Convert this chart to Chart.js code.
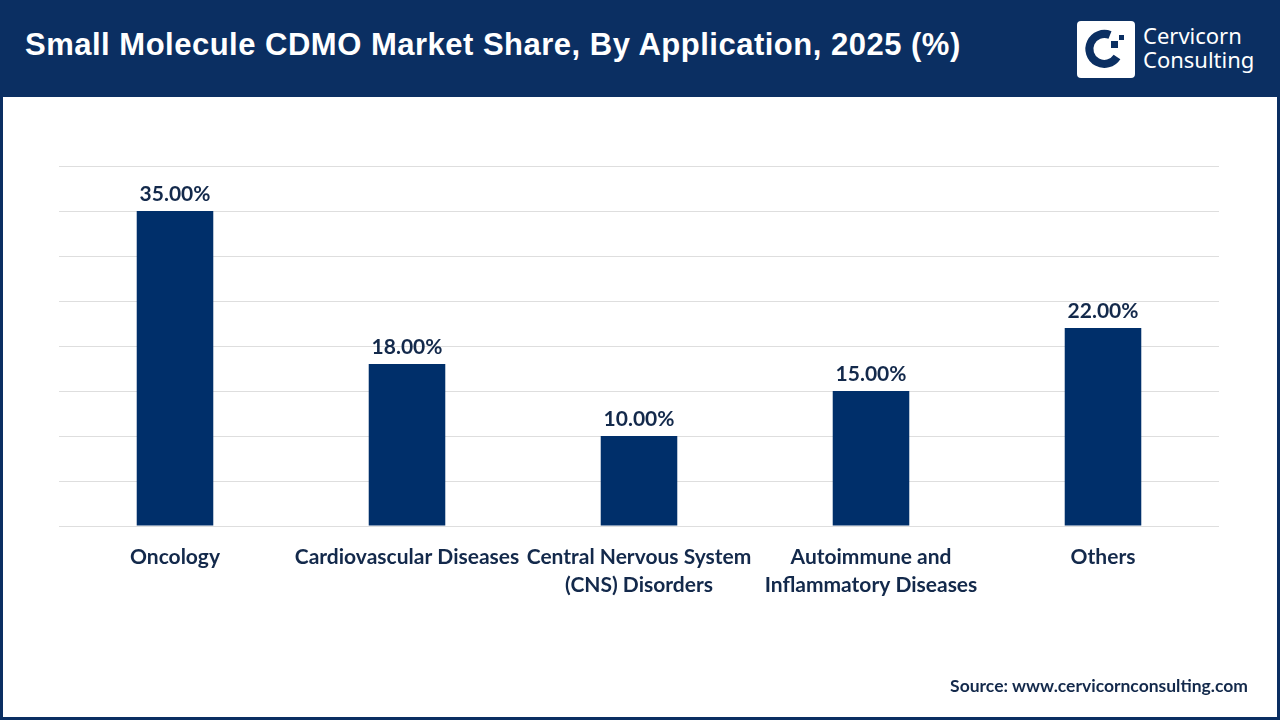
<!DOCTYPE html>
<html>
<head>
<meta charset="utf-8">
<script src="https://cdn.jsdelivr.net/npm/chart.js@4.4.0/dist/chart.umd.min.js"></script>
<style>
  html, body { margin: 0; padding: 0; background: #fff; }
  #page { position: relative; width: 1280px; height: 720px; overflow: hidden; background: #fff; }
  #frame { position: absolute; left: 0; top: 0; width: 1274px; height: 714px; border: 3px solid #0b2f62; box-sizing: content-box; pointer-events: none; }
  #header { position: absolute; left: 0; top: 0; width: 1280px; height: 97px; background: #0b2f62; }
  #title { position: absolute; left: 25px; top: 27px; color: #fff; font: bold 31px "Liberation Sans", Arial, sans-serif; letter-spacing: 0.5px; }
  #logoBox { position: absolute; left: 1077px; top: 21px; width: 58px; height: 57px; background: #fff; border-radius: 4px; }
  #logoText { position: absolute; left: 1143px; top: 23px; color: #fff; font: 22px "Noto Sans", sans-serif; line-height: 24px; }
  #source { position: absolute; right: 32px; top: 675px; color: #13294b; font: bold 17.5px Lato, sans-serif; }
  canvas { position: absolute; left: 0; top: 0; }
</style>
</head>
<body>
<div id="page">
  <div id="header">
    <div id="title">Small Molecule CDMO Market Share, By Application, 2025 (%)</div>
    <div id="logoBox">
      <svg width="58" height="57" viewBox="0 0 58 57">
        <path d="M33 14 A15 15 0 1 0 40 36" fill="none" stroke="#0b2f62" stroke-width="8"/>
        <rect x="34" y="20" width="7" height="7" fill="#0b2f62"/>
        <rect x="42" y="14" width="5" height="5" fill="#0b2f62"/>
      </svg>
    </div>
    <div id="logoText">Cervicorn<br>Consulting</div>
  </div>
  <canvas id="chart" width="1280" height="720"></canvas>
  <div id="source">Source: www.cervicornconsulting.com</div>
  <div id="frame"></div>
</div>
<script>
const categories = [
  'Oncology',
  'Cardiovascular Diseases',
  ['Central Nervous System', '(CNS) Disorders'],
  ['Autoimmune and', 'Inflammatory Diseases'],
  'Others'
];
const shares = [35, 18, 10, 15, 22];
const yMax = 40;
const yStep = 5;

const barColor = '#002f6a';
const textColor = '#13294b';

const valueLabels = {
  id: 'valueLabels',
  afterDatasetsDraw(chart) {
    const ctx = chart.ctx;
    const meta = chart.getDatasetMeta(0);
    ctx.save();
    ctx.font = 'bold 21px Lato, sans-serif';
    ctx.fillStyle = textColor;
    ctx.textAlign = 'center';
    ctx.textBaseline = 'bottom';
    meta.data.forEach((bar, i) => {
      ctx.fillText(shares[i].toFixed(2) + '%', bar.x, bar.y - 6);
    });
    ctx.restore();
  }
};

new Chart(document.getElementById('chart').getContext('2d'), {
  type: 'bar',
  data: {
    labels: categories,
    datasets: [{
      data: shares,
      backgroundColor: barColor,
      categoryPercentage: 1,
      barPercentage: 0.33
    }]
  },
  options: {
    responsive: false,
    animation: false,
    layout: { padding: { left: 59, right: 61, top: 166, bottom: 74 } },
    plugins: { legend: { display: false }, tooltip: { enabled: false } },
    scales: {
      x: {
        grid: { display: false },
        border: { display: false },
        afterFit(scale) { scale.height = 120; },
        ticks: {
          color: textColor,
          font: { family: 'Lato, sans-serif', size: 21, weight: 'bold', lineHeight: 1.33 },
          padding: 9,
          maxRotation: 0,
          autoSkip: false
        }
      },
      y: {
        min: 0,
        max: yMax,
        afterFit(scale) { scale.width = 0; },
        border: { display: false },
        grid: { color: '#dedede', lineWidth: 1, drawTicks: false },
        ticks: { display: false, stepSize: yStep }
      }
    }
  },
  plugins: [valueLabels]
});
</script>
</body>
</html>
